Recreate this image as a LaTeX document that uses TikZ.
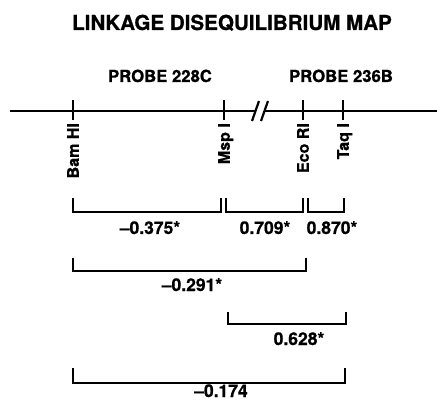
\documentclass[tikz,border=0pt]{standalone}
\usepackage{fontspec}
\setmainfont{TeX Gyre Heros}[BoldFeatures={FakeBold=0.8}]
\usetikzlibrary{calc}

\begin{document}
\begin{tikzpicture}[
  x=1pt, y=-1pt,
  map/.style={line width=2.2pt},
  sitetick/.style={line width=2.4pt},
  bracket/.style={line width=2.2pt, line join=miter},
  titlelbl/.style={anchor=base, inner sep=0pt, font=\bfseries\fontsize{20.6}{24}\selectfont},
  probelbl/.style={anchor=base, inner sep=0pt, font=\bfseries\fontsize{16.7}{20}\selectfont},
  sitelbl/.style={rotate=90, anchor=east, inner sep=0pt, text height=11.5pt, text depth=0pt,
    font=\bfseries\fontsize{16}{18}\selectfont},
  coef/.style={anchor=base, inner sep=0pt, font=\bfseries\fontsize{17.5}{20}\selectfont},
]
\useasboundingbox (0,0) rectangle (437,401);

% Title and probes
\node[titlelbl] (title) at (232,30) {LINKAGE DISEQUILIBRIUM MAP};
\node[probelbl] (p228) at (160,82) {PROBE 228C};
\node[probelbl] (p236) at (341,82) {PROBE 236B};

% Map line with break
\coordinate (west) at (10,111);
\coordinate (east) at (437,111);
\coordinate (cutL) at (255.5,111);
\coordinate (cutR) at (264.5,111);
\draw[map] (west) -- (cutL);
\draw[map] (cutR) -- (east);
\draw[map] ($(cutL)+(-3.5,10)$) -- ($(cutL)+(3.5,-10)$);
\draw[map] ($(cutR)+(-3.5,10)$) -- ($(cutR)+(3.5,-10)$);

% Restriction sites
\coordinate (bam) at (73,111);
\coordinate (msp) at (224,111);
\coordinate (eco) at (303,111);
\coordinate (taq) at (343,111);
\foreach \s in {bam,msp,eco,taq}
  \draw[sitetick] ($(\s)+(0,-11)$) -- ($(\s)+(0,9)$);
\node[sitelbl] (lbam) at ($(bam)+(0,12)$) {Bam HI};
\node[sitelbl] (lmsp) at ($(msp)+(0,12)$) {Msp I};
\node[sitelbl] (leco) at ($(eco)+(0,12)$) {Eco RI};
\node[sitelbl] (ltaq) at ($(taq)+(0,12)$) {Taq I};

% Brackets
\coordinate (b1-l) at (73,212);  \coordinate (b1-r) at (221,212);
\coordinate (b2-l) at (226,212); \coordinate (b2-r) at (303,212);
\coordinate (b3-l) at (308,212); \coordinate (b3-r) at (344,212);
\coordinate (b4-l) at (73,271);  \coordinate (b4-r) at (306,271);
\coordinate (b5-l) at (228,324); \coordinate (b5-r) at (346,324);
\coordinate (b6-l) at (73,383);  \coordinate (b6-r) at (345,383);
\foreach \b/\h in {b1/14,b2/14,b3/14,b4/13,b5/12,b6/15}
  \draw[bracket] ([yshift=\h pt]\b-l) -- (\b-l) -- (\b-r) -- ([yshift=\h pt]\b-r);

% Coefficients
\node[coef] (c1) at (150,234) {--0.375*};
\node[coef] (c2) at (265,234) {0.709*};
\node[coef] (c3) at (332,234) {0.870*};
\node[coef] (c4) at (192,291) {--0.291*};
\node[coef] (c5) at (299,345) {0.628*};
\node[coef] (c6) at (221,397) {--0.174};
\end{tikzpicture}
\end{document}
